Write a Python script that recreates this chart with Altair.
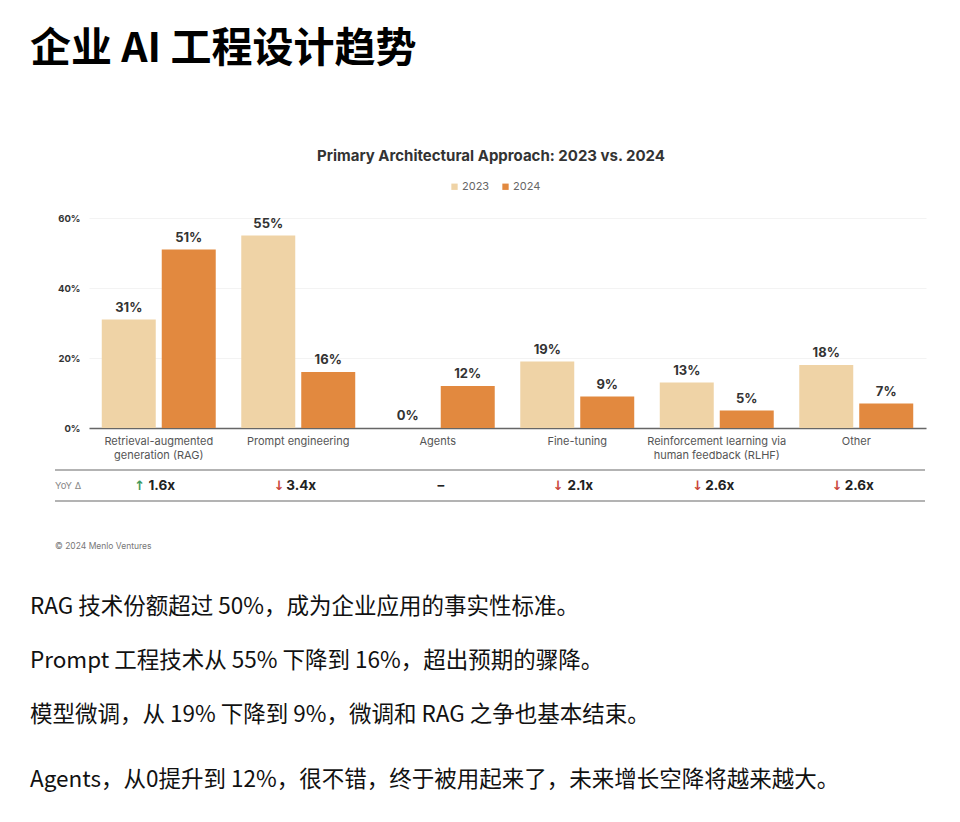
import altair as alt
import pandas as pd

# ---- data -------------------------------------------------------------
categories = [
    "Retrieval-augmented\ngeneration (RAG)",
    "Prompt engineering",
    "Agents",
    "Fine-tuning",
    "Reinforcement learning via\nhuman feedback (RLHF)",
    "Other",
]
years = ["2023", "2024"]
share_2023 = [31, 55, 0, 19, 13, 18]
share_2024 = [51, 16, 12, 9, 5, 7]
yoy_change = ["1.6x", "3.4x", "–", "2.1x", "2.6x", "2.6x"]
yoy_arrow = ["↑", "↓", "", "↓", "↓", "↓"]

page_title = "企业 AI 工程设计趋势"
chart_title = "Primary Architectural Approach: 2023 vs. 2024"
source_note = "© 2024 Menlo Ventures"
notes = [
    "RAG 技术份额超过 50%，成为企业应用的事实性标准。",
    "Prompt 工程技术从 55% 下降到 16%，超出预期的骤降。",
    "模型微调，从 19% 下降到 9%，微调和 RAG 之争也基本结束。",
    "Agents，从0提升到 12%，很不错，终于被用起来了，未来增长空降将越来越大。",
]

# ---- styling ----------------------------------------------------------
C2023 = "#efd3a6"
C2024 = "#e2893f"
UP = "#3f9a5e"
DOWN = "#c9453a"
LATIN = "Inter"
CJK = "Noto Sans CJK SC"

rows = []
for cat, a, b in zip(categories, share_2023, share_2024):
    rows.append({"category": cat, "year": "2023", "value": a, "label": f"{a}%"})
    rows.append({"category": cat, "year": "2024", "value": b, "label": f"{b}%"})
bars_df = pd.DataFrame(rows)

yoy_df = pd.DataFrame({
    "category": categories,
    "change": yoy_change,
    "arrow": yoy_arrow,
    "arrow_color": [UP if a == "↑" else DOWN for a in yoy_arrow],
})

x_enc = alt.X(
    "category:N",
    sort=categories,
    scale=alt.Scale(paddingInner=0.183, paddingOuter=0.0915),
    axis=alt.Axis(
        title=None,
        labelAngle=0,
        labelExpr="split(datum.label, '\\n')",
        labelFont=LATIN,
        labelFontSize=11,
        labelColor="#555",
        labelPadding=7,
        labelLineHeight=14,
        ticks=False,
        domainColor="#666",
        domainWidth=1.5,
    ),
)
x_off = alt.XOffset("year:N", sort=years, scale=alt.Scale(paddingInner=0.1, paddingOuter=0))

base = alt.Chart(bars_df)

bars = base.mark_bar().encode(
    x=x_enc,
    xOffset=x_off,
    y=alt.Y(
        "value:Q",
        scale=alt.Scale(domain=[0, 60], nice=False),
        axis=alt.Axis(
            title=None,
            values=[0, 20, 40, 60],
            labelExpr="datum.value + '%'",
            labelFont=LATIN,
            labelFontWeight="bold",
            labelFontSize=9.5,
            labelColor="#333",
            labelPadding=9,
            domain=False,
            ticks=False,
            grid=True,
            gridColor="#f3f3f3",
        ),
    ),
    color=alt.Color(
        "year:N",
        scale=alt.Scale(domain=years, range=[C2023, C2024]),
        legend=alt.Legend(
            title=None,
            orient="none",
            direction="horizontal",
            legendX=360,
            legendY=-37,
            padding=0,
            symbolType="square",
            symbolSize=40,
            symbolStrokeWidth=0,
            labelFont=LATIN,
            labelFontSize=11,
            labelColor="#666",
            labelOffset=2,
            columnPadding=10,
        ),
    ),
)

values = base.mark_text(
    baseline="bottom", dy=-5, font=LATIN, fontWeight="bold", fontSize=13, color="#333"
).encode(x=x_enc, xOffset=x_off, y="value:Q", text="label:N")

yoy = alt.Chart(yoy_df)
yoy_text = yoy.mark_text(
    baseline="middle", dx=3, font=LATIN, fontWeight="bold", fontSize=13.5, color="#222"
).encode(x=x_enc, y=alt.value(268), text="change:N")
yoy_arrows = yoy.mark_text(
    baseline="middle", dx=-19, font="DejaVu Sans", fontWeight="bold", fontSize=13
).encode(
    x=x_enc,
    y=alt.value(268),
    text="arrow:N",
    color=alt.Color("arrow_color:N", scale=None, legend=None),
)


def rule(y):
    return alt.Chart(pd.DataFrame({"r": [0]})).mark_rule(color="#9a9a9a", strokeWidth=1.5).encode(
        x=alt.value(-34), x2=alt.value(836), y=alt.value(y)
    )


def note(text, x, y, align="left", **style):
    return alt.Chart(pd.DataFrame({"text": [text]})).mark_text(
        align=align, baseline="middle", **style
    ).encode(x=alt.value(x), y=alt.value(y), text="text:N")


layers = [
    bars,
    values,
    rule(252),
    rule(283),
    yoy_arrows,
    yoy_text,
    note("YoY Δ", -34, 268, font=LATIN, fontSize=9.5, color="#888"),
    note(source_note, -34, 328, font=LATIN, fontSize=8.5, color="#777"),
    note(chart_title, 402, -62, align="center", font=LATIN, fontSize=15, fontWeight="bold", color="#333"),
    note(page_title, -59, -168, font=CJK, fontSize=41, fontWeight="bold", color="#000"),
]
for line, y in zip(notes, [389, 443, 497, 562]):
    layers.append(note(line, -59, y, font=CJK, fontSize=22.5, color="#111"))

chart = (
    alt.layer(*layers)
    .properties(
        width=837,
        height=210,
        padding={"left": 89, "top": 218, "right": 34, "bottom": 394},
        autosize=alt.AutoSizeParams(type="none"),
        background="white",
    )
    .configure_view(stroke=None)
)

chart.save("out.html", embed_options={"renderer": "svg", "actions": False})
